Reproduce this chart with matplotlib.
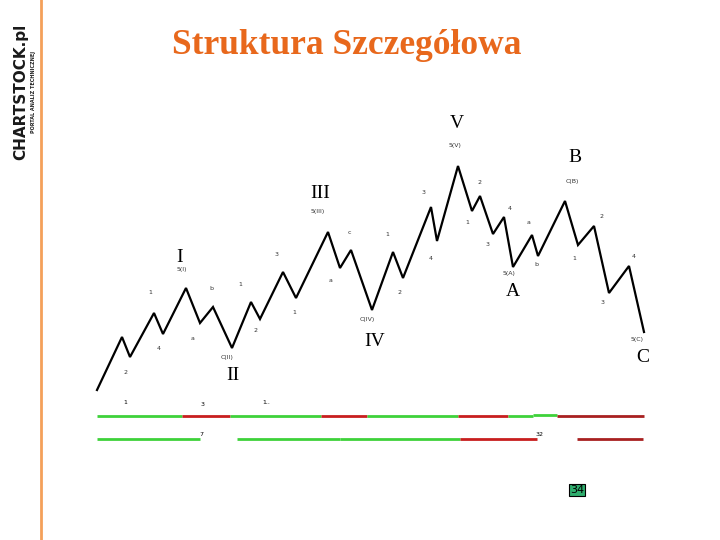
import matplotlib.pyplot as plt

# wave path (time, price), price axis points down like the picture
wave_t = [97, 122, 130, 154, 163, 186, 200, 213, 232, 251, 260, 283, 296, 328, 340, 351,
          372, 393, 403, 431, 437, 458, 472, 480, 493, 504, 513, 532, 538, 565, 578, 594,
          609, 629, 644]
wave_p = [390, 337, 357, 313, 334, 288, 323, 307, 348, 302, 319, 272, 298, 232, 268, 250,
          310, 252, 278, 207, 241, 166, 211, 196, 234, 217, 267, 235, 256, 201, 245, 226,
          293, 266, 332]

# big wave labels
major_labels = ["I", "II", "III", "IV", "V", "A", "B", "C"]
major_t = [180, 233, 320, 375, 457, 513, 575, 643]
major_p = [258, 376, 194, 342, 123, 292, 157, 357]

# sub wave tags under the big labels
tag_labels = ["5(I)", "C(II)", "5(III)", "C(IV)", "5(V)", "5(A)", "C(B)", "5(C)"]
tag_t = [182, 227, 318, 367, 455, 509, 572, 637]
tag_p = [269, 358, 212, 319, 145, 274, 181, 340]

# small counts
minor_labels = ["2", "1", "4", "a", "b", "1", "2", "3", "1", "a", "c", "1", "2", "3", "4",
                "1", "2", "3", "4", "a", "b", "1", "2", "3", "4"]
minor_t = [126, 150, 159, 193, 211, 240, 256, 277, 294, 331, 349, 387, 399, 424, 431,
           467, 479, 488, 510, 529, 536, 574, 602, 603, 634]
minor_p = [373, 293, 348, 338, 288, 284, 330, 255, 312, 281, 232, 234, 292, 193, 258,
           222, 183, 245, 208, 222, 265, 258, 217, 302, 256]

# coloured trend bars below the chart
row1_edges = [97, 182, 230, 321, 367, 458, 508, 533, 557, 644]
row1_colors = ["#3ed23a", "#c81e1e", "#3ed23a", "#c81e1e", "#3ed23a", "#c81e1e",
               "#3ed23a", "#3ed23a", "#a82020"]
row2_segments = [(97, 200, "#3ed23a"), (237, 340, "#3ed23a"), (340, 460, "#3ed23a"),
                 (460, 537, "#c81e1e"), (577, 643, "#a82020")]
bar_texts = ["1", "3", "1..", "7", "32"]
bar_text_t = [125, 203, 266, 201, 540]
bar_text_p = [402, 405, 402, 434, 434]

fig = plt.figure(figsize=(7.2, 5.4), dpi=100)
ax = fig.add_axes([0, 0, 1, 1])
ax.set_xlim(0, 720)
ax.set_ylim(540, 0)
ax.axis("off")

# left border line and logo
ax.plot([41, 41], [0, 540], color="#f4a05a", lw=2)
ax.text(21, 92, "CHARTSTOCK.pl", rotation=90, ha="center", va="center",
        fontsize=11, fontweight="heavy", color="#1a1a1a", family="DejaVu Sans")
ax.text(34, 92, "PORTAL ANALIZ TECHNICZNEJ", rotation=90, ha="center", va="center",
        fontsize=3.5, fontweight="bold", color="#222222")

ax.text(347, 45, "Struktura Szczegółowa", ha="center", va="center",
        fontsize=25.5, fontweight="bold", color="#e8681c", family="Liberation Serif")

ax.plot(wave_t, wave_p, color="black", lw=1.6, solid_joinstyle="miter")

for lab, t, p in zip(major_labels, major_t, major_p):
    ax.text(t, p, lab, ha="center", va="center", fontsize=14, family="Liberation Serif")
for lab, t, p in zip(tag_labels, tag_t, tag_p):
    ax.text(t, p, lab, ha="center", va="center", fontsize=4.5, color="#333333")
for lab, t, p in zip(minor_labels, minor_t, minor_p):
    ax.text(t, p, lab, ha="center", va="center", fontsize=4.5, color="#333333")

for i, c in enumerate(row1_colors):
    y = 415 if i == 7 else 416
    ax.plot([row1_edges[i], row1_edges[i + 1]], [y, y], color=c, lw=2,
            solid_capstyle="butt")
for a, b, c in row2_segments:
    ax.plot([a, b], [438.5, 438.5], color=c, lw=2, solid_capstyle="butt")
for lab, t, p in zip(bar_texts, bar_text_t, bar_text_p):
    ax.text(t, p, lab, ha="center", va="center", fontsize=4.5)

ax.text(577, 490, "34", ha="center", va="center", fontsize=8,
        bbox=dict(boxstyle="square,pad=0.1", fc="#2fae6e", ec="black", lw=0.8))

fig.savefig("out.png", dpi=100)
